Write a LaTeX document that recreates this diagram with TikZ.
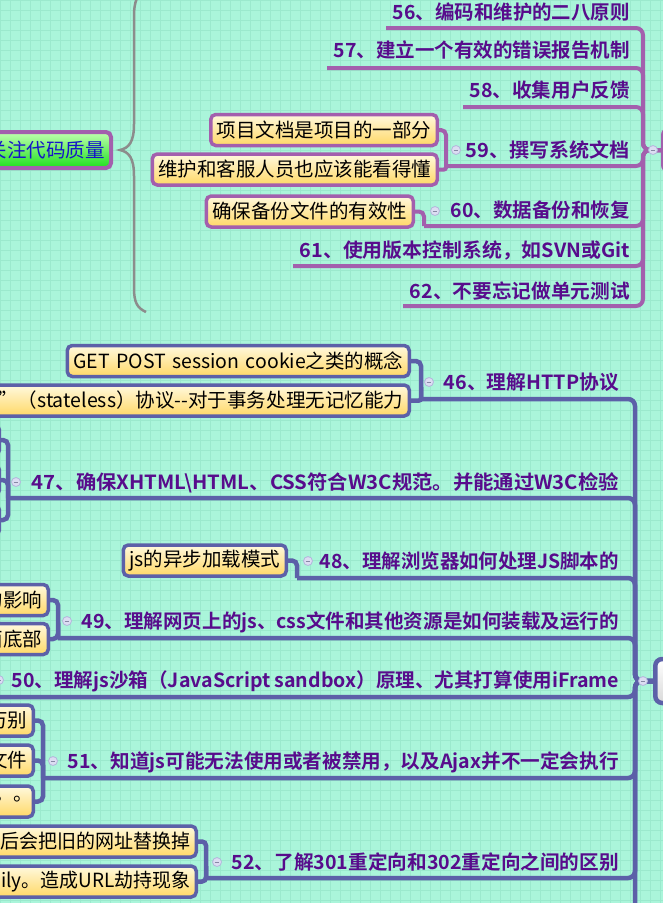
\documentclass[tikz,border=0pt]{standalone}
\usepackage{fontspec}
\usepackage{graphicx}
\setmainfont{Noto Sans CJK SC}[BoldFont={Noto Sans CJK SC Bold}]
\newfontfamily\tcfont{Noto Sans CJK TC}
\newcommand\fitw[2]{\resizebox{#1pt}{\height}{#2}}
\definecolor{bgc}{HTML}{AAF5DA}
\definecolor{gridc}{HTML}{9BE9CD}
\definecolor{pl}{HTML}{A35FAD}
\definecolor{bl}{HTML}{5C60A8}
\definecolor{labc}{HTML}{580C8C}
\definecolor{yel1}{HTML}{FFF9DE}
\definecolor{yel2}{HTML}{FFD866}
\definecolor{grn1}{HTML}{C0FFB0}
\definecolor{grn2}{HTML}{1EE01E}
\definecolor{rootblue}{HTML}{1515C8}
\definecolor{braceg}{HTML}{8C8C8C}
\definecolor{collf}{HTML}{DCDDF2}
\definecolor{colld}{HTML}{B4B6DC}
\pgfdeclarelayer{bgl}
\pgfdeclarelayer{lnl}
\pgfsetlayers{bgl,lnl,main}
\begin{document}
\begin{tikzpicture}[x=1pt,y=-1pt]
\tikzset{
 lab/.style={font=\fontsize{19.5}{22}\selectfont\bfseries, text=labc, inner sep=0pt, anchor=base east},
 cbox/.style={draw=#1, line width=3.5pt, rounded corners=5pt, top color=yel1, bottom color=yel2, inner xsep=6pt, inner ysep=0pt, minimum height=31pt, align=right, font=\fontsize{19.5}{22}\selectfont, text=black, anchor=east},
 cbox/.default=pl,
 pline/.style={draw=pl, line width=4pt, rounded corners=7pt},
 bline/.style={draw=bl, line width=4.5pt, rounded corners=7pt},
 coll/.style={circle, minimum size=9pt, inner sep=0pt, fill=collf, draw=colld, line width=0.8pt, path picture={\draw[colld!75!black, line width=0.9pt] ([xshift=-2.4pt]path picture bounding box.center) -- ([xshift=2.4pt]path picture bounding box.center);}},
}
\useasboundingbox (0,0) rectangle (663,903);
\clip (0,0) rectangle (663,903);
\begin{pgfonlayer}{bgl}
\fill[bgc] (0,0) rectangle (663,903);
\foreach \i in {0,10,...,660} \draw[gridc, line width=0.6pt] (\i,0) -- (\i,903);
\foreach \j in {0,10,...,900} \draw[gridc, line width=0.6pt] (0,\j) -- (663,\j);
\end{pgfonlayer}

% ---------------- top section ----------------
\node[draw=pl, line width=4pt, rounded corners=5pt, top color=grn1, bottom color=grn2, minimum height=36pt, text width=141pt, align=right, inner xsep=6pt, inner ysep=0pt, anchor=east, font=\fontsize{19.5}{22}\selectfont, text=rootblue] (G) at (113,150) {关注代码质量};
\draw[braceg, line width=2.5pt] (146,-12) .. controls (137,-6) and (134,2) .. (134,16) -- (134,124) .. controls (134,142) and (129,148) .. (120,150) .. controls (129,152) and (134,158) .. (134,176) -- (134,288) .. controls (134,302) and (137,308) .. (146,312);

\node[draw=pl, line width=4pt, rounded corners=6pt, top color=white, bottom color=pl!30, minimum width=60pt, minimum height=42pt, anchor=west] (R1) at (661,150) {};
\coordinate (tr1) at (643,0);
\coordinate (u56) at (386,28);
\coordinate (u57) at (327,68);
\coordinate (u58) at (463,107);
\coordinate (u59) at (446,166);
\coordinate (u60) at (424,226);
\coordinate (u61) at (293,266);
\coordinate (u62) at (403,306);

\node[lab] (l56) at (630,19) {\fitw{237}{56、编码和维护的二八原则}};
\node[lab] (l57) at (630,57) {\fitw{296}{57、建立一个有效的错误报告机制}};
\node[lab] (l58) at (630,97) {\fitw{160}{58、收集用户反馈}};
\node[lab] (l59) at (630,157) {\fitw{164}{59、撰写系统文档}};
\node[lab] (l60) at (630,217) {\fitw{179}{60、数据备份和恢复}};
\node[lab] (l61) at (630,257) {\fitw{330}{61、使用版本控制系统，如SVN或Git}};
\node[lab] (l62) at (630,298) {\fitw{220}{62、不要忘记做单元测试}};

\node[cbox] (c59a) at (439,130) {项目文档是项目的一部分};
\node[cbox] (c59b) at (439,169.5) {维护和客服人员也应该能看得懂};
\node[cbox] (c60a) at (415,211.5) {确保备份文件的有效性};

\begin{pgfonlayer}{lnl}
\foreach \u in {u56,u57,u58,u59,u60,u61,u62}
  \draw[pline] (R1.west) -- (tr1 |- R1.west) -- (tr1 |- \u) -- (\u);
\draw[pline, rounded corners=5pt] (c59a.east) -- (u59 |- c59a.east) -- (u59);
\draw[pline, rounded corners=2pt] (c59b.east) -- (u59 |- c59b.east) -- (u59);
\draw[pline, rounded corners=5pt] (c60a.east) -- (u60 |- c60a.east) -- (u60);
\end{pgfonlayer}

\node[coll] (k1) at (653,150) {};
\node[coll] (k59) at (456,150) {};
\node[coll] (k60) at (435,211) {};

% ---------------- bottom section ----------------
\node[draw=bl, line width=4.5pt, rounded corners=7pt, top color=white, bottom color=black!15, minimum width=60pt, minimum height=44pt, anchor=west] (R2) at (653,681) {};
\coordinate (tr2) at (635,0);
\coordinate (u46) at (421,399);
\coordinate (u47) at (8,498);
\coordinate (u48) at (297,578);
\coordinate (u49) at (58,638);
\coordinate (u50) at (-10,697);
\coordinate (u51) at (43,778);
\coordinate (u52) at (206,878);
\coordinate (u53) at (300,960);

\node[lab] (l46) at (619,389) {\fitw{175}{46、理解HTTP协议}};
\node[lab] (l47) at (619,489) {\fitw{587}{47、确保XHTML\textbackslash HTML、CSS符合W3C规范。并能通过W3C检验}};
\node[lab] (l48) at (619,568) {\fitw{299}{48、理解浏览器如何处理JS脚本的}};
\node[lab] (l49) at (619,628) {\fitw{537}{49、理解网页上的js、css文件和其他资源是如何装载及运行的}};
\node[lab] (l50) at (619,687) {\fitw{607}{50、理解js沙箱（JavaScript sandbox）原理、尤其打算使用iFrame}};
\node[lab] (l51) at (619,768) {\fitw{551}{51、知道js可能无法使用或者被禁用，以及Ajax并不一定会执行}};
\node[lab] (l52) at (619,869) {\fitw{387}{52、了解301重定向和302重定向之间的区别}};

\node[cbox=bl, text width=330pt] (c46a) at (411,361) {\fitw{330}{GET POST session cookie之类的概念}};
\node[cbox=bl, text width=417pt] (c46b) at (411,400.5) {\fitw{405}{”（stateless）协议-{}-对于事务处理无记忆能力}};
\node[cbox=bl, minimum width=60pt] (c47a) at (1,440) {};
\node[cbox=bl, minimum width=60pt] (c47b) at (1,480) {};
\node[cbox=bl, minimum width=60pt] (c47c) at (1,520) {};
\node[cbox=bl] (c48a) at (288,560.5) {js的异步加载模式};
\node[cbox=bl, text width=68pt] (c49a) at (50,600) {的影响};
\node[cbox=bl, text width=68pt] (c49b) at (50,639) {面底部};
\node[cbox=bl, text width=53pt] (c51a) at (35,720.5) {万别};
\node[cbox=bl, text width=53pt] (c51b) at (35,760.5) {文件};
\node[cbox=bl, text width=53pt] (c51c) at (35,801.5) {{\tcfont 。。}};
\node[cbox=bl, text width=226pt] (c52a) at (198,841.5) {\fitw{190}{后会把旧的网址替换掉}};
\node[cbox=bl, text width=226pt] (c52b) at (198,881.5) {\fitw{189}{ily。造成URL劫持现象}};

\begin{pgfonlayer}{lnl}
\foreach \u in {u46,u47,u48,u49,u50,u51,u52,u53}
  \draw[bline] (R2.west) -- (tr2 |- R2.west) -- (tr2 |- \u) -- (\u);
\draw[bline, rounded corners=5pt] (c46a.east) -- (u46 |- c46a.east) -- (u46);
\draw[bline, rounded corners=2pt] (c46b.east) -- (u46 |- c46b.east) -- (u46);
\foreach \c in {c47a,c47b,c47c}
  \draw[bline, rounded corners=5pt] (\c.east) -- (u47 |- \c.east) -- (u47);
\draw[bline, rounded corners=5pt] (c48a.east) -- (u48 |- c48a.east) -- (u48);
\foreach \c in {c49a,c49b}
  \draw[bline, rounded corners=5pt] (\c.east) -- (u49 |- \c.east) -- (u49);
\foreach \c in {c51a,c51b,c51c}
  \draw[bline, rounded corners=5pt] (\c.east) -- (u51 |- \c.east) -- (u51);
\foreach \c in {c52a,c52b}
  \draw[bline, rounded corners=4pt] (\c.east) -- (u52 |- \c.east) -- (u52);
\end{pgfonlayer}

\node[coll] (k2) at (643,681) {};
\node[coll] (k46) at (429,382) {};
\node[coll] (k47) at (16,482) {};
\node[coll] (k48) at (308,561) {};
\node[coll] (k49) at (67,621) {};
\node[coll] (k50) at (-1,680) {};
\node[coll] (k51) at (53,761) {};
\node[coll] (k52) at (217,862) {};
\end{tikzpicture}
\end{document}
